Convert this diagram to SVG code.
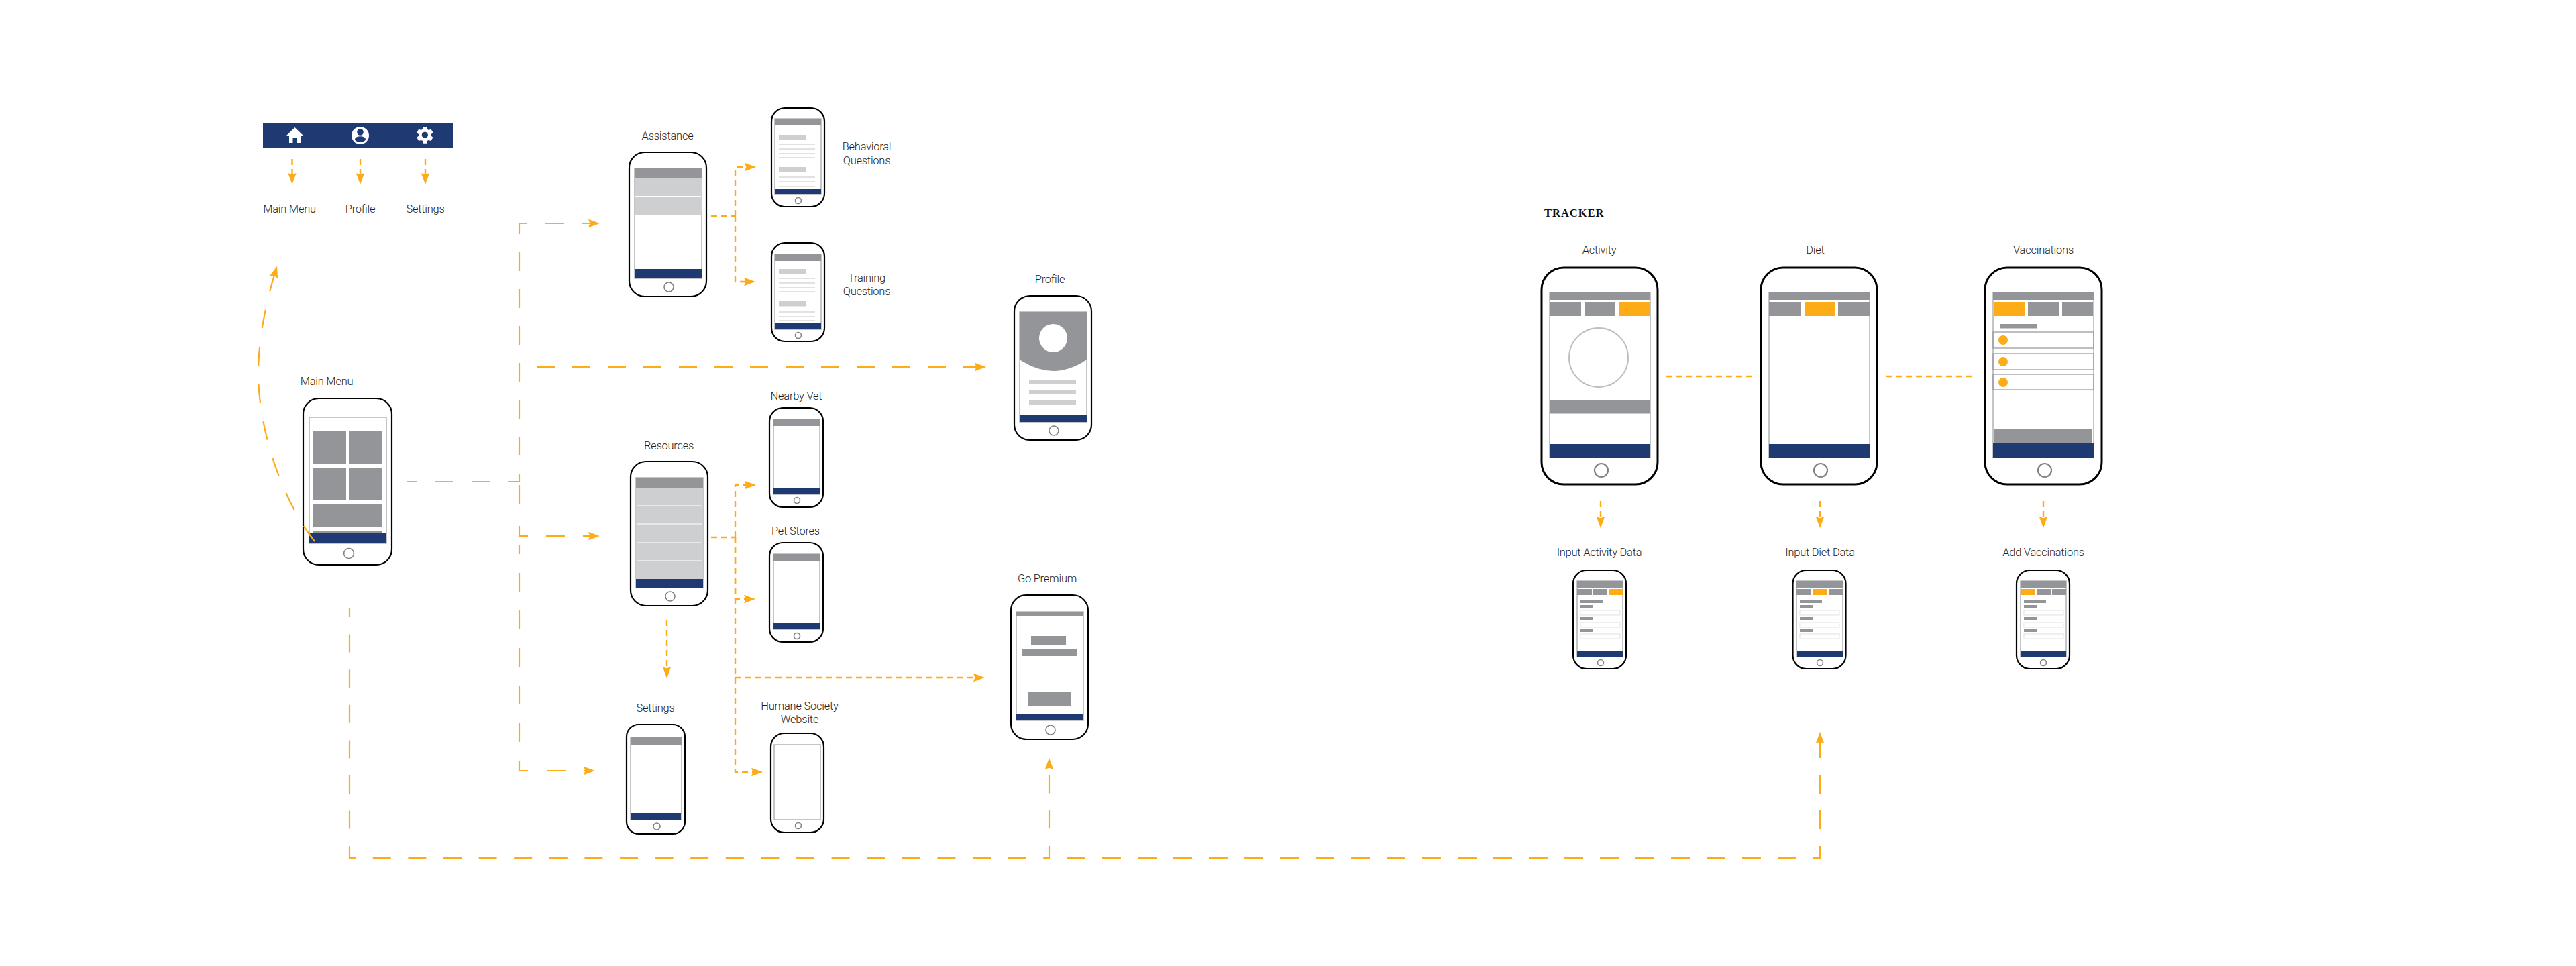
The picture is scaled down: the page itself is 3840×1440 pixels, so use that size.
<svg xmlns="http://www.w3.org/2000/svg" width="3840" height="1440" viewBox="0 0 3840 1440">
<style>
.bg{fill:#fff}
.ph{fill:#fff;stroke:#000;stroke-width:2.2}
.ph2{fill:#fff;stroke:#000;stroke-width:3}
.sc{fill:#fff;stroke:#b1b3b6;stroke-width:1.5}
.g{fill:#939598}
.l{fill:#cdcfd1}
.n{fill:#1f3a72}
.o{fill:#fdab16}
.w{fill:#fff}
.hb{fill:#fff;stroke:#808285;stroke-width:1.6}
.hb2{fill:#fff;stroke:#808285;stroke-width:2.2}
.in{fill:#fff;stroke:#e6e7e8;stroke-width:1.2}
.rw{fill:none;stroke:#939598;stroke-width:1.2}
.ln{stroke:#d8d9da;stroke-width:1.4}
text{font-family:Roboto,"Liberation Sans",sans-serif;font-weight:300;font-size:16.5px;letter-spacing:-0.25px;fill:#1f1f1f;text-anchor:middle}
.h{font-family:"Liberation Serif",serif;font-weight:700;font-size:16.5px;letter-spacing:1px;fill:#111;text-anchor:start}
.c{fill:none;stroke:#fdab16;stroke-width:2.2}
.big{stroke-dasharray:27 26}
.sm{stroke-dasharray:9 6;stroke-width:2.4}
.ah{marker-end:url(#arrow)}
</style>
<defs>
<marker id="arrow" markerUnits="userSpaceOnUse" markerWidth="17" markerHeight="13" viewBox="0 0 15 11" refX="7" refY="5.5" orient="auto"><path d="M0,0L15,5.5L0,11L2,5.5Z" fill="#fdab16"/></marker>
<g id="form">
<rect class="g" x="5" y="29" width="33" height="4"/>
<rect class="g" x="5" y="36" width="19" height="4"/><rect class="in" x="5" y="44" width="59" height="7"/>
<rect class="g" x="5" y="54" width="19" height="4"/><rect class="in" x="5" y="62" width="59" height="7"/>
<rect class="g" x="5" y="72" width="19" height="4"/><rect class="in" x="5" y="79" width="59" height="7"/>
</g>
</defs>
<rect class="bg" width="3840" height="1440"/>

<g id="nav-legend">
<rect class="n" x="392" y="183" width="283" height="37"/>
<path class="w" d="M439.500,190L452,202H448V213H442.500V205H436.500V213H431V202H427Z"/>
<circle class="w" cx="537" cy="202" r="13"/><circle class="n" cx="537" cy="197" r="4.800"/><ellipse class="n" cx="537" cy="207.500" rx="8" ry="4.300"/>
<path class="w" fill-rule="evenodd" transform="translate(618,186) scale(1.28)" d="M19.14,12.94c0.04-0.3,0.06-0.61,0.06-0.94c0-0.32-0.02-0.64-0.07-0.94l2.03-1.58c0.18-0.14,0.23-0.41,0.12-0.61l-1.92-3.32c-0.12-0.22-0.37-0.29-0.59-0.22l-2.39,0.96c-0.5-0.38-1.03-0.7-1.62-0.94L14.4,2.81c-0.04-0.24-0.24-0.41-0.48-0.41h-3.84c-0.24,0-0.43,0.17-0.47,0.41L9.25,5.35C8.66,5.59,8.12,5.92,7.63,6.29L5.24,5.33c-0.22-0.08-0.47,0-0.59,0.22L2.74,8.87C2.62,9.08,2.66,9.34,2.86,9.48l2.03,1.58C4.84,11.36,4.8,11.69,4.8,12s0.02,0.64,0.07,0.94l-2.03,1.58c-0.18,0.14-0.23,0.41-0.12,0.61l1.92,3.32c0.12,0.22,0.37,0.29,0.59,0.22l2.39-0.96c0.5,0.38,1.03,0.7,1.62,0.94l0.36,2.54c0.05,0.24,0.24,0.41,0.48,0.41h3.84c0.24,0,0.44-0.17,0.47-0.41l0.36-2.54c0.59-0.24,1.13-0.56,1.62-0.94l2.39,0.96c0.22,0.08,0.47,0,0.59-0.22l1.92-3.32c0.12-0.22,0.07-0.47-0.12-0.61L19.14,12.94z M12,15.6c-1.98,0-3.6-1.62-3.6-3.6s1.62-3.6,3.6-3.6s3.6,1.62,3.6,3.6S13.98,15.6,12,15.6z"/>
<text x="431.500" y="317">Main Menu</text><text x="537" y="317">Profile</text><text x="634" y="317">Settings</text>
</g>

<g id="main-menu">
<text x="487" y="574">Main Menu</text>
<rect class="ph" x="452" y="594" width="132" height="248" rx="23"/>
<rect class="sc" x="461" y="622" width="115" height="188"/>
<rect class="g" x="467" y="643" width="49" height="49"/><rect class="g" x="520" y="643" width="49" height="49"/>
<rect class="g" x="467" y="697" width="49" height="49"/><rect class="g" x="520" y="697" width="49" height="49"/>
<rect class="g" x="467" y="751" width="102" height="34"/><rect class="g" x="467" y="791" width="102" height="4"/>
<rect class="n" x="461" y="795" width="115" height="15"/>
<circle class="hb" cx="520" cy="825" r="7.500"/>
</g>

<g id="assistance">
<text x="995" y="208">Assistance</text>
<rect class="ph" x="938" y="227" width="115" height="215" rx="23"/>
<rect class="sc" x="946" y="251" width="100" height="164"/>
<rect class="g" x="946" y="251" width="100" height="15"/>
<rect class="l" x="946" y="266" width="100" height="26"/><rect class="l" x="946" y="294" width="100" height="26"/>
<rect class="n" x="946" y="401" width="100" height="14"/>
<circle class="hb" cx="997" cy="428" r="7"/>
</g>

<g id="behavioral-questions">
<rect class="ph" x="1150" y="161" width="79" height="147" rx="20"/>
<rect class="sc" x="1155" y="177" width="69" height="112"/>
<rect class="g" x="1155" y="177" width="69" height="10"/>
<rect class="l" x="1161" y="201" width="41" height="8"/>
<path class="ln" d="M1161,215H1215M1161,222H1215M1161,229H1215M1161,235H1215M1161,264H1215M1161,271H1215M1161,278H1215"/>
<rect class="l" x="1161" y="249" width="41" height="7.500"/>
<rect class="n" x="1155" y="281" width="69" height="8"/>
<circle class="hb" cx="1190" cy="299" r="4.500"/>
<text x="1292" y="224">Behavioral</text><text x="1292" y="245">Questions</text>
</g>

<g id="training-questions">
<rect class="ph" x="1150" y="362" width="79" height="147" rx="20"/>
<rect class="sc" x="1155" y="379" width="69" height="112"/>
<rect class="g" x="1155" y="379" width="69" height="10"/>
<rect class="l" x="1161" y="401" width="41" height="8"/>
<path class="ln" d="M1161,415H1215M1161,422H1215M1161,429H1215M1161,435H1215M1161,465H1215M1161,472H1215M1161,478H1215"/>
<rect class="l" x="1161" y="449" width="41" height="7.500"/>
<rect class="n" x="1155" y="482" width="69" height="9"/>
<circle class="hb" cx="1190" cy="500" r="4.500"/>
<text x="1292" y="420">Training</text><text x="1292" y="440">Questions</text>
</g>

<g id="resources">
<text x="997" y="670">Resources</text>
<rect class="ph" x="940" y="688" width="115" height="215" rx="23"/>
<rect class="sc" x="948" y="712" width="100" height="164"/>
<rect class="g" x="948" y="712" width="100" height="15"/>
<rect class="l" x="948" y="727" width="100" height="136"/>
<path d="M949,754H1047M949,781H1047M949,809H1047M949,836H1047" stroke="#f1f1f2" stroke-width="1.500"/>
<rect class="n" x="948" y="863" width="100" height="13"/>
<circle class="hb" cx="999" cy="889" r="7"/>
</g>

<g id="nearby-vet">
<text x="1187" y="596">Nearby Vet</text>
<rect class="ph" x="1147" y="608" width="80" height="148" rx="20"/>
<rect class="sc" x="1153" y="625" width="69" height="112"/>
<rect class="g" x="1153" y="625" width="69" height="10"/>
<rect class="n" x="1153" y="728" width="69" height="9"/>
<circle class="hb" cx="1188" cy="746" r="4.500"/>
</g>

<g id="pet-stores">
<text x="1186" y="797">Pet Stores</text>
<rect class="ph" x="1147" y="809" width="80" height="148" rx="20"/>
<rect class="sc" x="1153" y="826" width="69" height="112"/>
<rect class="g" x="1153" y="826" width="69" height="10"/>
<rect class="n" x="1153" y="929" width="69" height="9"/>
<circle class="hb" cx="1188" cy="948" r="4.500"/>
</g>

<g id="settings">
<text x="977" y="1061">Settings</text>
<rect class="ph" x="934" y="1080" width="87" height="163" rx="18"/>
<rect class="sc" x="940" y="1099" width="76" height="123"/>
<rect class="g" x="940" y="1099" width="76" height="11"/>
<rect class="n" x="940" y="1212" width="75" height="10"/>
<circle class="hb" cx="979" cy="1232" r="5"/>
</g>

<g id="humane-society-website">
<text x="1192" y="1058">Humane Society</text><text x="1192" y="1078">Website</text>
<rect class="ph" x="1149" y="1093" width="79" height="148" rx="20"/>
<rect class="sc" x="1154" y="1110" width="69" height="112"/>
<circle class="hb" cx="1190" cy="1231" r="4.500"/>
</g>

<g id="profile">
<text x="1565" y="422">Profile</text>
<rect class="ph" x="1512" y="441" width="115" height="215" rx="23"/>
<rect class="sc" x="1520" y="465" width="100" height="164"/>
<path class="g" d="M1520,465H1620V536Q1570,570 1520,536Z"/>
<circle class="w" cx="1570" cy="504" r="21"/>
<rect class="l" x="1534" y="566" width="70" height="6.500"/><rect class="l" x="1534" y="581" width="70" height="6.500"/><rect class="l" x="1534" y="597" width="70" height="6.500"/>
<rect class="n" x="1520" y="618" width="100" height="11"/>
<circle class="hb" cx="1571" cy="642" r="7"/>
</g>

<g id="go-premium">
<text x="1561" y="868">Go Premium</text>
<rect class="ph" x="1507" y="887" width="115" height="215" rx="23"/>
<rect class="sc" x="1515" y="912" width="100" height="162"/>
<rect class="g" x="1515" y="912" width="100" height="7"/>
<rect class="g" x="1537" y="948" width="52" height="13"/>
<rect class="g" x="1523" y="968" width="82" height="10"/>
<rect class="g" x="1532" y="1031" width="64" height="21"/>
<rect class="n" x="1515" y="1064" width="100" height="10"/>
<circle class="hb" cx="1566" cy="1088" r="7"/>
</g>

<text class="h" x="2302" y="323">TRACKER</text>

<g id="activity">
<text x="2384" y="378">Activity</text>
<rect class="ph2" x="2298" y="399" width="173" height="323" rx="33"/>
<rect class="sc" x="2310" y="436" width="150" height="246"/>
<rect class="g" x="2310" y="436" width="150" height="11"/>
<rect class="g" x="2310" y="450" width="47" height="21"/><rect class="g" x="2363" y="450" width="45" height="21"/><rect class="o" x="2413" y="450" width="46" height="21"/>
<circle cx="2383" cy="533" r="44" fill="#fff" stroke="#bcbec0" stroke-width="2"/>
<rect class="g" x="2310" y="596" width="150" height="20.500"/>
<rect class="n" x="2310" y="662" width="150" height="20"/>
<circle class="hb2" cx="2387" cy="701" r="10"/>
</g>

<g id="diet">
<text x="2706" y="378">Diet</text>
<rect class="ph2" x="2625" y="399" width="173" height="323" rx="33"/>
<rect class="sc" x="2637" y="436" width="150" height="246"/>
<rect class="g" x="2637" y="436" width="150" height="11"/>
<rect class="g" x="2637" y="450" width="47" height="21"/><rect class="o" x="2690" y="450" width="46" height="21"/><rect class="g" x="2740" y="450" width="47" height="21"/>
<rect class="n" x="2637" y="662" width="150" height="20"/>
<circle class="hb2" cx="2714" cy="701" r="10"/>
</g>

<g id="vaccinations">
<text x="3046" y="378">Vaccinations</text>
<rect class="ph2" x="2959" y="399" width="174" height="323" rx="33"/>
<rect class="sc" x="2971" y="436" width="150" height="246"/>
<rect class="g" x="2971" y="436" width="150" height="11"/>
<rect class="o" x="2972" y="450" width="47" height="21"/><rect class="g" x="3023" y="450" width="46" height="21"/><rect class="g" x="3074" y="450" width="46" height="21"/>
<rect class="g" x="2982" y="483" width="54" height="6.500"/>
<rect class="rw" x="2971" y="495" width="150" height="24"/><rect class="rw" x="2971" y="527" width="150" height="24"/><rect class="rw" x="2971" y="558" width="150" height="23"/>
<circle class="o" cx="2986" cy="507" r="7"/><circle class="o" cx="2986" cy="539" r="7"/><circle class="o" cx="2986" cy="570" r="7"/>
<rect class="g" x="2973" y="640" width="145" height="20.500"/>
<rect class="n" x="2971" y="661" width="150" height="21"/>
<circle class="hb2" cx="3048" cy="701" r="10"/>
</g>

<g id="input-activity-data">
<text x="2384" y="829">Input Activity Data</text>
<rect class="ph" x="2345" y="850" width="79" height="147" rx="20"/>
<rect class="sc" x="2351" y="866" width="68" height="113"/>
<rect class="g" x="2351" y="866" width="68" height="10"/>
<rect class="g" x="2351" y="878" width="22" height="9"/><rect class="g" x="2375" y="878" width="21" height="9"/><rect class="o" x="2398" y="878" width="21" height="9"/>
<use href="#form" x="2351" y="866"/>
<rect class="n" x="2351" y="970" width="68" height="9"/>
<circle class="hb" cx="2386" cy="988" r="4.500"/>
</g>

<g id="input-diet-data">
<text x="2713" y="829">Input Diet Data</text>
<rect class="ph" x="2672.500" y="850" width="79" height="147" rx="20"/>
<rect class="sc" x="2678" y="866" width="69" height="113"/>
<rect class="g" x="2678" y="866" width="69" height="10"/>
<rect class="g" x="2678" y="878" width="22" height="9"/><rect class="o" x="2702" y="878" width="21" height="9"/><rect class="g" x="2726" y="878" width="21" height="9"/>
<use href="#form" x="2678" y="866"/>
<rect class="n" x="2679" y="970" width="68" height="9"/>
<circle class="hb" cx="2713" cy="988" r="4.500"/>
</g>

<g id="add-vaccinations">
<text x="3046" y="829">Add Vaccinations</text>
<rect class="ph" x="3006" y="850" width="79" height="147" rx="20"/>
<rect class="sc" x="3012" y="866" width="68" height="113"/>
<rect class="g" x="3012" y="866" width="68" height="10"/>
<rect class="o" x="3012" y="878" width="22" height="9"/><rect class="g" x="3036" y="878" width="21" height="9"/><rect class="g" x="3059" y="878" width="21" height="9"/>
<use href="#form" x="3012" y="866"/>
<rect class="n" x="3012" y="970" width="68" height="9"/>
<circle class="hb" cx="3046" cy="988" r="4.500"/>
</g>

<g id="connectors">
<path class="c sm ah" d="M435.500,237V266"/>
<path class="c sm ah" d="M537,237V266"/>
<path class="c sm ah" d="M634,237V266"/>
<path class="c ah" stroke-dasharray="28 28" d="M469,807C420,745 385,640 385,556C385,510 395,455 410.400,405.500"/>
<path class="c ah" stroke-dasharray="28 27" stroke-dashoffset="14" d="M607,718H774V333H885"/>
<path class="c ah" stroke-dasharray="28 27" d="M774,723V753M774,784V799H885"/>
<path class="c ah" stroke-dasharray="28 28" stroke-dashoffset="14" d="M774,812V1149H878"/>
<path class="c big ah" d="M800,547H1461"/>
<path class="c ah" stroke-dasharray="27 25.600" stroke-dashoffset="14" d="M521,907V1279H1564V1139"/>
<path class="c ah" stroke-dasharray="28 25" d="M1590,1279H2713V1100"/>
<path class="c sm" d="M1060,322H1096"/>
<path class="c sm ah" d="M1096,322V249H1118"/>
<path class="c sm ah" d="M1096,322V420H1117"/>
<path class="c sm" d="M1060,801H1096"/>
<path class="c sm ah" d="M1096,801V723H1118"/>
<path class="c sm ah" d="M1096,801V893H1117"/>
<path class="c sm ah" d="M1096,801V1151H1128"/>
<path class="c sm ah" d="M1096,1010H1459"/>
<path class="c sm ah" d="M994,924V1002"/>
<path class="c sm" d="M2483,561H2618"/>
<path class="c sm" d="M2811,561H2946"/>
<path class="c sm ah" d="M2386,747V778"/>
<path class="c sm ah" d="M2713,747V778"/>
<path class="c sm ah" d="M3046,747V778"/>
</g>
</svg>
